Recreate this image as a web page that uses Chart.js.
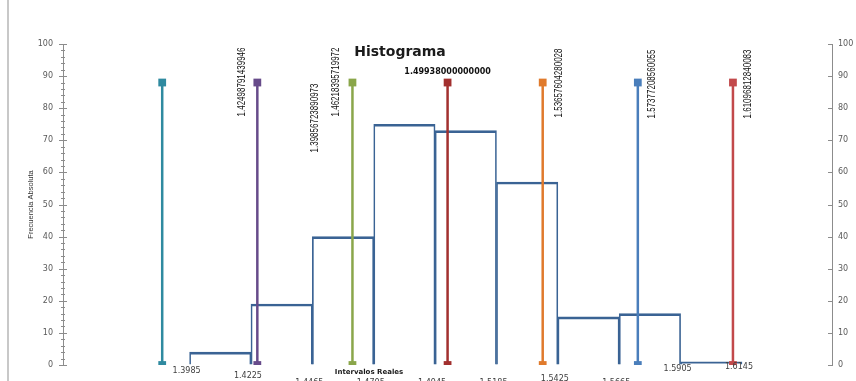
<!DOCTYPE html>
<html>
<head>
<meta charset="utf-8">
<script src="https://cdn.jsdelivr.net/npm/chart.js@4.4.1/dist/chart.umd.min.js"></script>
<style>
  body { margin: 0; background: #fff; }
  #wrap { width: 856px; height: 381px; position: relative; }
</style>
</head>
<body>
<div id="wrap"><canvas id="histo"></canvas></div>
<script>
// limites reales de clase y frecuencias absolutas
const binEdges = [1.3985, 1.4225, 1.4465, 1.4705, 1.4945, 1.5185, 1.5425, 1.5665, 1.5905, 1.6145];
const edgeLabels = ["1.3985", "1.4225", "1.4465", "1.4705", "1.4945", "1.5185", "1.5425", "1.5665", "1.5905", "1.6145"];
const frequencies = [4, 19, 40, 75, 73, 57, 15, 16, 1];

// lineas verticales (media +/- k desviaciones)
const stemValues = [1.38779187160055, 1.42498791439946, 1.46218395719972, 1.49938, 1.53657604280028, 1.57377208560055, 1.61096812840083];
const stemLabels = ["1.39856723890973", "1.42498791439946", "1.46218395719972", "1.49938000000000", "1.53657604280028", "1.57377208560055", "1.61096812840083"];
const stemHeight = 88;
const stemColors = ["#2f8aa0", "#674b8a", "#8aa64a", "#a2302f", "#e07a2c", "#4a7ebb", "#c2494b"];

const bars = frequencies.map((f, i) => ({ x: (binEdges[i] + binEdges[i + 1]) / 2, y: f }));

const stems = stemValues.map((v, i) => ({
  type: "line",
  data: [{ x: v, y: 0 }, { x: v, y: stemHeight }],
  borderColor: stemColors[i],
  backgroundColor: stemColors[i],
  borderWidth: 2.5,
  pointStyle: "rect",
  pointRadius: 5.5,
  pointBorderWidth: 0,
  order: 0,
}));

const decor = {
  id: "decor",
  beforeDraw(chart) {
    const c = chart.ctx;
    c.save();
    c.fillStyle = "#fff";
    c.fillRect(0, 0, chart.width, chart.height);
    c.strokeStyle = "#c8c8c8";
    c.lineWidth = 2;
    c.beginPath(); c.moveTo(8, 0); c.lineTo(8, chart.height); c.stroke();
    c.restore();
  },
  afterDraw(chart) {
    const c = chart.ctx, x = chart.scales.x, y = chart.scales.y, area = chart.chartArea;
    c.save();
    // marcas de los ejes
    c.strokeStyle = "#8c8c8c";
    c.lineWidth = 1;
    for (let v = 0; v <= 100; v += 2) {
      const py = Math.round(y.getPixelForValue(v)) + 0.5;
      const major = v % 10 === 0;
      const w = major ? 4 : 2;
      c.beginPath(); c.moveTo(area.left - w, py); c.lineTo(area.left + w, py); c.stroke();
      if (major) {
        c.beginPath(); c.moveTo(area.right - 4, py); c.lineTo(area.right, py); c.stroke();
      }
    }
    c.textAlign = "center";
    c.textBaseline = "middle";
    // titulo
    c.fillStyle = "#1a1a1a";
    c.font = "bold 14px 'DejaVu Sans'";
    c.fillText("Histograma", 400, 52);
    // titulo eje x
    c.font = "bold 7px 'DejaVu Sans'";
    c.fillText("Intervalos Reales", 369, 372);
    // etiquetas de los limites, escalonadas
    const labelY = [371, 376, 383, 383, 383, 383, 379, 383, 369, 367];
    c.font = "8px 'DejaVu Sans'";
    c.fillStyle = "#404040";
    edgeLabels.forEach((t, i) => c.fillText(t, x.getPixelForValue(binEdges[i]) - 3, labelY[i]));
    // etiquetas de las lineas
    const offs = [[153, 118], [-15, 82], [-16, 82], [0, 72], [17, 83], [14, 84], [15, 84]];
    c.fillStyle = "#111";
    stemLabels.forEach((t, i) => {
      const px = x.getPixelForValue(stemValues[i]) + offs[i][0];
      if (i === 3) {
        c.font = "bold 8px 'DejaVu Sans'";
        c.fillText(t, px, offs[i][1]);
        return;
      }
      c.save();
      c.translate(px, offs[i][1]);
      c.rotate(-Math.PI / 2);
      c.scale(0.8, 1);
      c.font = "10px 'Liberation Sans', Arial, sans-serif";
      c.fillText(t, 0, 0);
      c.restore();
    });
    c.restore();
  },
};

new Chart(document.getElementById("histo"), {
  type: "bar",
  data: {
    datasets: [
      {
        data: bars,
        backgroundColor: "rgba(0,0,0,0)",
        borderColor: "#3a6394",
        borderWidth: { top: 2, left: 1, right: 1, bottom: 0 },
        borderSkipped: "start",
        barPercentage: 1,
        categoryPercentage: 1,
        order: 1,
      },
      ...stems,
    ],
  },
  options: {
    responsive: true,
    maintainAspectRatio: false,
    animation: false,
    layout: { padding: { left: 26, right: 0, top: 44, bottom: 16 } },
    plugins: { legend: { display: false }, tooltip: { enabled: false } },
    scales: {
      x: { type: "linear", min: 1.349, max: 1.6497, offset: false, display: false },
      y: {
        position: "left",
        min: 0,
        max: 100,
        afterFit: (s) => { s.width = 37; },
        ticks: { stepSize: 10, padding: 10, color: "#595959", font: { family: "DejaVu Sans", size: 8 } },
        grid: { drawOnChartArea: false, drawTicks: false },
        border: { color: "#8c8c8c" },
        title: {
          display: true,
          text: "Frecuencia Absoluta",
          color: "#333",
          font: { family: "Liberation Sans", size: 7.5 },
          padding: { top: 0, bottom: 0 },
        },
      },
      y1: {
        position: "right",
        min: 0,
        max: 100,
        afterFit: (s) => { s.width = 24; },
        ticks: { stepSize: 10, padding: 6, color: "#595959", font: { family: "DejaVu Sans", size: 8 } },
        grid: { drawOnChartArea: false, drawTicks: false },
        border: { color: "#8c8c8c" },
      },
    },
  },
  plugins: [decor],
});
</script>
</body>
</html>
